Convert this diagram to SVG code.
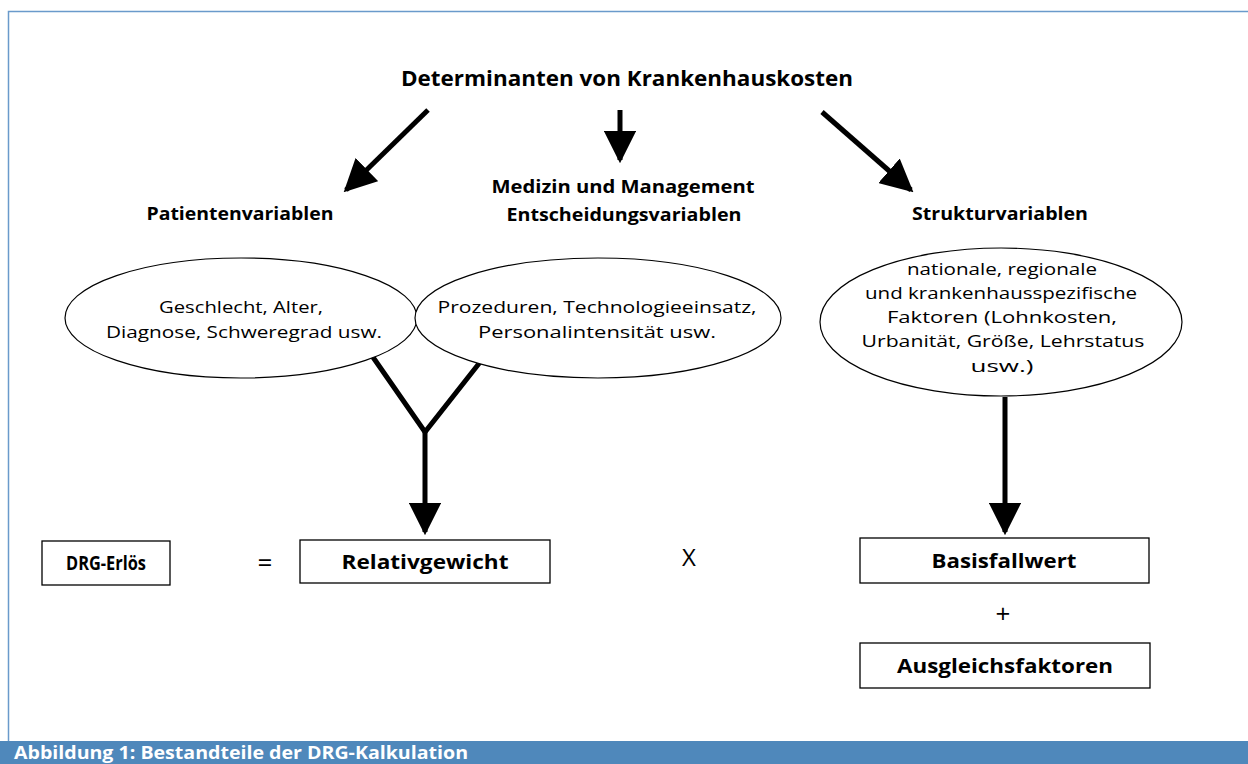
<svg xmlns="http://www.w3.org/2000/svg" width="1248" height="764" viewBox="0 0 1248 764">
<defs>
<style>
.t{font-family:"Open Sans","Liberation Sans",sans-serif;fill:#000;text-anchor:middle}
.b{font-weight:bold}
.h{font-size:21px}
.l{font-size:17px}
.e{font-size:17px}
.bx{font-size:19px}
.shape{fill:#fff;stroke:#000;stroke-width:1.2}
.box{fill:#fff;stroke:#000;stroke-width:1.3}
.conn{stroke:#000;stroke-width:5;fill:none}
</style>
<marker id="ah" viewBox="0 0 10 10" refX="9" refY="5" markerWidth="6.5" markerHeight="6.5" markerUnits="strokeWidth" orient="auto">
<path d="M0,0 L10,5 L0,10 z" fill="#000"/>
</marker>
</defs>
<rect x="0" y="0" width="1248" height="764" fill="#fff"/>
<g id="frame">
<path d="M8.5,741 V11.5 H1248" fill="none" stroke="#6a9acb" stroke-width="1.5"/>
<rect x="0" y="741" width="1248" height="23" fill="#4f88bb"/>
<text x="14" y="759" font-family="'Open Sans','Liberation Sans',sans-serif" font-weight="bold" font-size="18" fill="#fff" textLength="454" lengthAdjust="spacingAndGlyphs">Abbildung 1: Bestandteile der DRG-Kalkulation</text>
</g>
<g id="connectors">
<line class="conn" x1="428" y1="110" x2="346" y2="190" marker-end="url(#ah)"/>
<line class="conn" x1="620" y1="110" x2="620" y2="160" marker-end="url(#ah)"/>
<line class="conn" x1="822" y1="112" x2="911" y2="190" marker-end="url(#ah)"/>
<polyline class="conn" points="368,350 425,432 492,347"/>
<line class="conn" x1="425" y1="432" x2="425" y2="532" marker-end="url(#ah)"/>
<line class="conn" x1="1005" y1="397" x2="1005" y2="532" marker-end="url(#ah)"/>
</g>
<g id="title">
<text class="t b h" x="627" y="86" textLength="452" lengthAdjust="spacingAndGlyphs">Determinanten von Krankenhauskosten</text>
</g>
<g id="label-patient">
<text class="t b l" x="240" y="220" textLength="187" lengthAdjust="spacingAndGlyphs">Patientenvariablen</text>
</g>
<g id="label-medizin">
<text class="t b l" x="623" y="193" textLength="263" lengthAdjust="spacingAndGlyphs">Medizin und Management</text>
<text class="t b l" x="624" y="221" textLength="235" lengthAdjust="spacingAndGlyphs">Entscheidungsvariablen</text>
</g>
<g id="label-struktur">
<text class="t b l" x="1000" y="220" textLength="176" lengthAdjust="spacingAndGlyphs">Strukturvariablen</text>
</g>
<g id="ellipse-patient">
<ellipse class="shape" cx="241" cy="318" rx="176" ry="60"/>
<text class="t e" x="241" y="313" textLength="164" lengthAdjust="spacingAndGlyphs">Geschlecht, Alter,</text>
<text class="t e" x="244" y="338" textLength="276" lengthAdjust="spacingAndGlyphs">Diagnose, Schweregrad usw.</text>
</g>
<g id="ellipse-medizin">
<ellipse class="shape" cx="598" cy="318" rx="183" ry="60"/>
<text class="t e" x="597" y="313" textLength="319" lengthAdjust="spacingAndGlyphs">Prozeduren, Technologieeinsatz,</text>
<text class="t e" x="597" y="338" textLength="238" lengthAdjust="spacingAndGlyphs">Personalintensität usw.</text>
</g>
<g id="ellipse-struktur">
<ellipse class="shape" cx="1001" cy="322" rx="181" ry="74"/>
<text class="t e" x="1002" y="275" textLength="190" lengthAdjust="spacingAndGlyphs">nationale, regionale</text>
<text class="t e" x="1001" y="299" textLength="272" lengthAdjust="spacingAndGlyphs">und krankenhausspezifische</text>
<text class="t e" x="1002" y="323" textLength="230" lengthAdjust="spacingAndGlyphs">Faktoren (Lohnkosten,</text>
<text class="t e" x="1003" y="347" textLength="283" lengthAdjust="spacingAndGlyphs">Urbanität, Größe, Lehrstatus</text>
<text class="t e" x="1002" y="372" textLength="63" lengthAdjust="spacingAndGlyphs">usw.)</text>
</g>
<g id="box-drg">
<rect class="box" x="42" y="541" width="128" height="44"/>
<text class="t b bx" x="106" y="570" textLength="80" lengthAdjust="spacingAndGlyphs">DRG-Erlös</text>
</g>
<g id="op-eq">
<text class="t" x="265" y="572" font-size="26">=</text>
</g>
<g id="box-relativ">
<rect class="box" x="300" y="540" width="250" height="43"/>
<text class="t b bx" x="425" y="569" textLength="167" lengthAdjust="spacingAndGlyphs">Relativgewicht</text>
</g>
<g id="op-x">
<text class="t" x="689" y="566" font-size="24" font-family="'Liberation Sans',sans-serif">X</text>
</g>
<g id="box-basis">
<rect class="box" x="860" y="538" width="289" height="45"/>
<text class="t b bx" x="1004" y="568" textLength="145" lengthAdjust="spacingAndGlyphs">Basisfallwert</text>
</g>
<g id="op-plus">
<text class="t" x="1003" y="623" font-size="26">+</text>
</g>
<g id="box-ausgleich">
<rect class="box" x="860" y="643" width="290" height="45"/>
<text class="t b bx" x="1005" y="673" textLength="216" lengthAdjust="spacingAndGlyphs">Ausgleichsfaktoren</text>
</g>
</svg>
